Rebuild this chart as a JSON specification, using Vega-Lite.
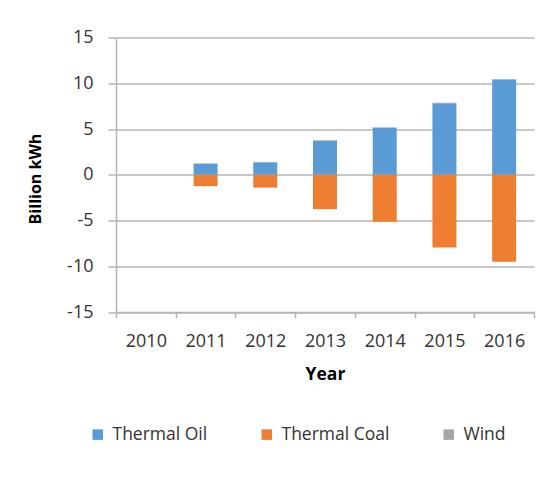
{
  "$schema": "https://vega.github.io/schema/vega-lite/v6.json",
  "width": 418,
  "height": 274.5,
  "autosize": "none",
  "padding": {"left": 116, "top": 37.5, "right": 23, "bottom": 173},
  "background": "white",
  "config": {
    "font": "Open Sans",
    "view": {"stroke": null},
    "axis": {
      "labelFont": "Open Sans",
      "titleFont": "Open Sans",
      "labelColor": "#333333",
      "titleColor": "#000000",
      "domainColor": "#B4B4B4",
      "gridColor": "#B4B4B4",
      "tickColor": "#B4B4B4",
      "domainWidth": 1.5,
      "gridWidth": 1.5,
      "tickWidth": 1.5
    }
  },
  "data": {
    "values": [
      {"year": "2010", "source": "Thermal Oil", "value": 0},
      {"year": "2010", "source": "Thermal Coal", "value": 0},
      {"year": "2010", "source": "Wind", "value": 0},
      {"year": "2011", "source": "Thermal Oil", "value": 1.2},
      {"year": "2011", "source": "Thermal Coal", "value": -1.25},
      {"year": "2011", "source": "Wind", "value": 0.05},
      {"year": "2012", "source": "Thermal Oil", "value": 1.35},
      {"year": "2012", "source": "Thermal Coal", "value": -1.4},
      {"year": "2012", "source": "Wind", "value": 0.05},
      {"year": "2013", "source": "Thermal Oil", "value": 3.72},
      {"year": "2013", "source": "Thermal Coal", "value": -3.76},
      {"year": "2013", "source": "Wind", "value": 0.05},
      {"year": "2014", "source": "Thermal Oil", "value": 5.15},
      {"year": "2014", "source": "Thermal Coal", "value": -5.15},
      {"year": "2014", "source": "Wind", "value": 0.05},
      {"year": "2015", "source": "Thermal Oil", "value": 7.82},
      {"year": "2015", "source": "Thermal Coal", "value": -7.95},
      {"year": "2015", "source": "Wind", "value": 0.05},
      {"year": "2016", "source": "Thermal Oil", "value": 10.4},
      {"year": "2016", "source": "Thermal Coal", "value": -9.5},
      {"year": "2016", "source": "Wind", "value": 0.05}
    ]
  },
  "transform": [
    {"calculate": "indexof(['Thermal Oil', 'Thermal Coal', 'Wind'], datum.source)", "as": "rank"}
  ],
  "mark": {"type": "bar", "width": 24},
  "encoding": {
    "x": {
      "field": "year",
      "type": "ordinal",
      "scale": {"paddingInner": 0, "paddingOuter": 0},
      "axis": {
        "title": "Year",
        "labelAngle": 0,
        "labelFontSize": 18,
        "titleFontSize": 17.5,
        "titleFontWeight": "bold",
        "tickBand": "extent",
        "tickSize": 6,
        "labelPadding": 14,
        "titlePadding": 15,
        "grid": false
      }
    },
    "y": {
      "field": "value",
      "type": "quantitative",
      "stack": "zero",
      "scale": {"domain": [-15, 15], "nice": false},
      "axis": {
        "title": "Billion kWh",
        "values": [-15, -10, -5, 0, 5, 10, 15],
        "labelExpr": "'' + datum.value",
        "labelFontSize": 18,
        "titleFontSize": 16,
        "titleFontWeight": "bold",
        "tickSize": 8,
        "labelPadding": 15,
        "titleX": -81,
        "titleY": 141,
        "titleAlign": "center",
        "titleBaseline": "middle",
        "grid": true
      }
    },
    "color": {
      "field": "source",
      "type": "nominal",
      "scale": {
        "domain": ["Thermal Oil", "Thermal Coal", "Wind"],
        "range": ["#5B9BD5", "#ED7D31", "#A5A5A5"]
      },
      "legend": {
        "title": null,
        "orient": "none",
        "direction": "horizontal",
        "padding": 0,
        "legendX": -27,
        "legendY": 388,
        "symbolType": "square",
        "symbolSize": 110,
        "symbolStrokeWidth": 0,
        "labelFont": "Open Sans",
        "labelFontSize": 17.5,
        "labelColor": "#333333",
        "labelOffset": 6,
        "columnPadding": 50
      }
    },
    "order": {"field": "rank", "type": "quantitative"}
  }
}
